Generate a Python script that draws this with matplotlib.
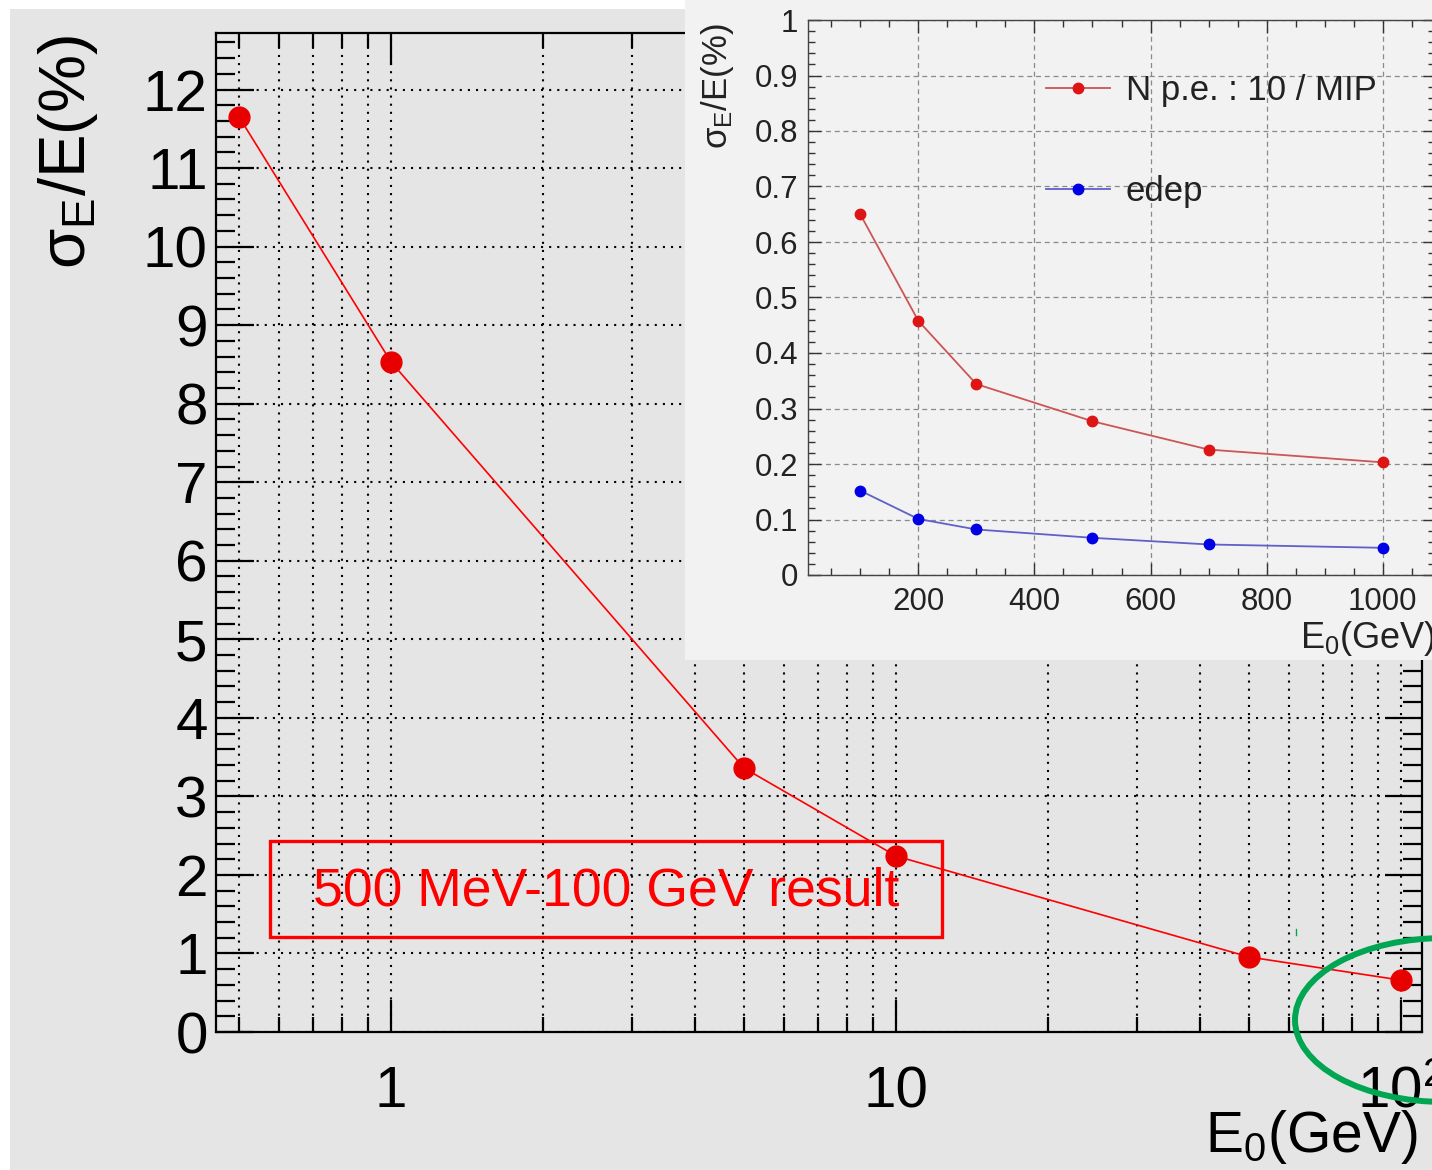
import matplotlib
matplotlib.use('Agg')
import matplotlib.pyplot as plt
from matplotlib.patches import Rectangle, Ellipse
from matplotlib.lines import Line2D
from matplotlib.ticker import MultipleLocator, LogLocator, NullFormatter, FuncFormatter

plt.rcParams['font.family'] = ['Liberation Sans', 'DejaVu Sans']
plt.rcParams['mathtext.fontset'] = 'custom'
plt.rcParams['mathtext.rm'] = 'Liberation Sans'
plt.rcParams['mathtext.it'] = 'Liberation Sans:italic'

# Energy resolution, 0.5 - 100 GeV
energy = [0.5, 1, 5, 10, 50, 100]
resolution = [11.65, 8.53, 3.36, 2.24, 0.955, 0.66]

# High energy scan (inset)
energy_hi = [100, 200, 300, 500, 700, 1000]
res_npe = [0.650, 0.458, 0.344, 0.277, 0.226, 0.203]
res_edep = [0.152, 0.101, 0.082, 0.067, 0.055, 0.049]

W, H = 1432, 1170
fig = plt.figure(figsize=(W / 100, H / 100), dpi=100, facecolor='white')


def fx(x):
    return x / W


def fy(y):
    return 1 - y / H


# backgrounds
fig.add_artist(Rectangle((fx(10), 0), 1, fy(9), transform=fig.transFigure,
                         fc='#e5e5e5', ec='none', zorder=-10))
fig.add_artist(Rectangle((fx(685), fy(660)), 1, 1, transform=fig.transFigure,
                         fc='#f2f2f2', ec='none', zorder=1))

# ---- main plot ----
ax = fig.add_axes([fx(216), fy(1032), fx(1422) - fx(216), fy(33) - fy(1032)], zorder=0)
ax.set_facecolor('none')
ax.set_xscale('log')
ax.set_xlim(0.45, 110)
ax.set_ylim(0, 12.72)
ax.plot(energy, resolution, color='#ff0000', lw=1.2, marker='o', ms=15,
        mfc='#e80000', mec='#e80000', zorder=5)

ax.set_xticks([1, 10, 100], labels=['1', '10', r'$\mathregular{10^{2}}$'])
ax.xaxis.set_minor_locator(LogLocator(base=10, subs=range(2, 10)))
ax.xaxis.set_minor_formatter(NullFormatter())
ax.yaxis.set_major_locator(MultipleLocator(1))
ax.yaxis.set_minor_locator(MultipleLocator(0.2))
ax.tick_params(which='both', direction='in', top=True, right=True, width=1.6, color='black')
ax.tick_params(axis='y', which='major', length=27, labelsize=42, pad=6)
ax.tick_params(axis='y', which='minor', length=14)
ax.tick_params(axis='x', which='major', length=23, labelsize=42, pad=24)
ax.tick_params(axis='x', which='minor', length=11)
for s in ax.spines.values():
    s.set_linewidth(1.6)

dots = (0, (1, 2.9))
ax.grid(axis='x', which='both', color='black', ls=dots, lw=1.5)
ax.grid(axis='y', which='major', color='black', ls=dots, lw=1.5)
ax.grid(axis='y', which='minor', visible=False)

fig.text(fx(68), fy(152), r'σ$_\mathregular{E}$/E(%)', rotation=90, fontsize=47,
         ha='center', va='center')
fig.text(fx(1418), fy(1152), r'E$_\mathregular{0}$(GeV)', fontsize=41,
         ha='right', va='baseline')

# annotation box
fig.add_artist(Rectangle((fx(270), fy(937)), fx(942) - fx(270), fy(841) - fy(937),
                         transform=fig.transFigure, fc='none', ec='#ff0000', lw=2.4, zorder=3))
fig.text(fx(606), fy(891), '500 MeV-100 GeV result', color='#ff0000', fontsize=38.5,
         ha='center', va='center', zorder=3)

# ---- inset ----
ins = fig.add_axes([fx(808), fy(575), fx(1435) - fx(808), fy(20) - fy(575)], zorder=2)
ins.set_facecolor('none')
ins.set_xlim(10, 1090)
ins.set_ylim(0, 1)
ins.plot(energy_hi, res_npe, color='#cc5555', lw=1.3, marker='o', ms=7.5,
         mfc='#dd1515', mec='#dd1515', label='N p.e. : 10 / MIP')
ins.plot(energy_hi, res_edep, color='#6060c8', lw=1.3, marker='o', ms=7.5,
         mfc='#0000e6', mec='#0000e6', label='edep')

ins.xaxis.set_major_locator(MultipleLocator(200))
ins.xaxis.set_minor_locator(MultipleLocator(50))
ins.yaxis.set_major_locator(MultipleLocator(0.1))
ins.yaxis.set_minor_locator(MultipleLocator(0.02))
ins.yaxis.set_major_formatter(FuncFormatter(lambda v, p: '%g' % round(v, 2)))
ins.tick_params(which='both', direction='in', top=True, right=True, width=1.0,
                color='#333333', labelcolor='#222222')
ins.tick_params(which='major', length=9, labelsize=22.5)
ins.tick_params(which='minor', length=5)
ins.tick_params(axis='y', pad=7)
ins.tick_params(axis='x', pad=9)
for s in ins.spines.values():
    s.set_linewidth(1.0)
    s.set_color('#444444')
ins.grid(which='major', color='#8a8a8a', ls=(0, (4, 3)), lw=0.9)

ins.legend(loc='upper left', bbox_to_anchor=(fx(1046), fy(74)),
           bbox_transform=fig.transFigure, frameon=False, fontsize=25,
           handlelength=1.85, handletextpad=0.45, labelspacing=1.95,
           borderpad=0, borderaxespad=0, numpoints=1, labelcolor='#222222')

fig.text(fx(717), fy(86), r'σ$_\mathregular{E}$/E(%)', rotation=90, fontsize=25,
         ha='center', va='center', color='#222222', zorder=3)
fig.text(fx(1436), fy(648), r'E$_\mathregular{0}$(GeV)', fontsize=26,
         ha='right', va='baseline', color='#222222', zorder=3)

# highlight around the 100 GeV point
fig.add_artist(Ellipse((fx(1445), fy(1020)), 300 / W, 164 / H, transform=fig.transFigure,
                       fc='none', ec='#00a651', lw=4.3, zorder=4))
fig.add_artist(Line2D([fx(1296), fx(1296)], [fy(929), fy(935)], transform=fig.transFigure,
                      color='#00a651', lw=1, zorder=4))

fig.savefig('out.png', dpi=100, facecolor=fig.get_facecolor())
